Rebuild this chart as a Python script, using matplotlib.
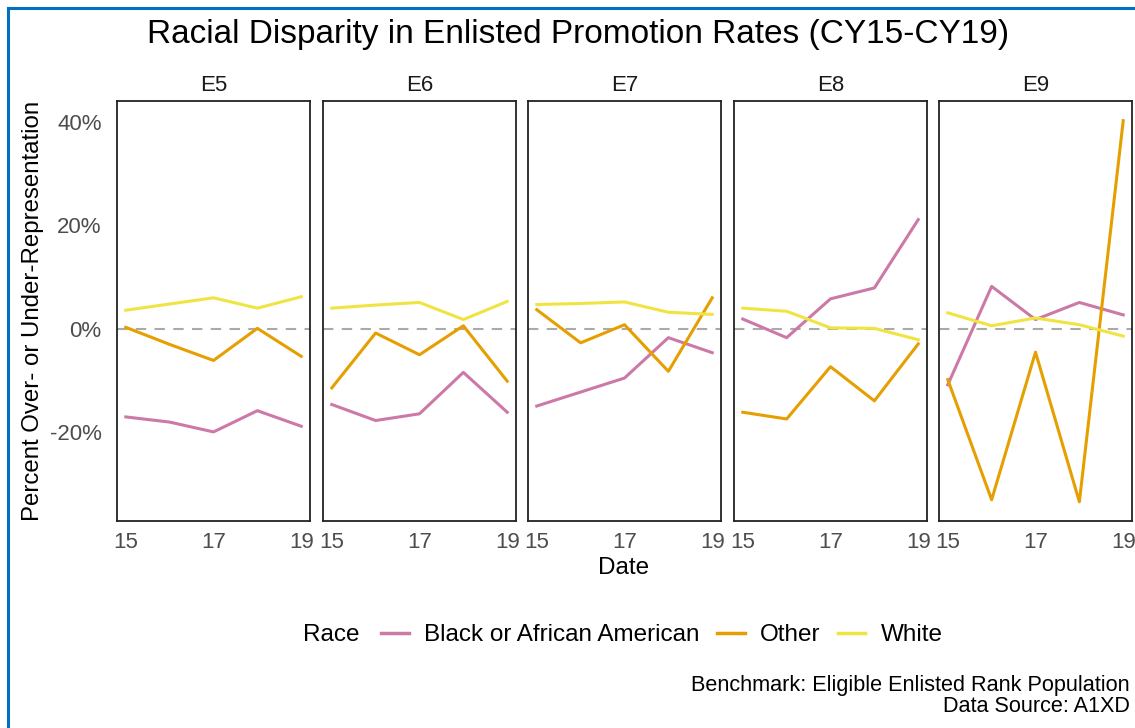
import matplotlib
matplotlib.use("Agg")
import matplotlib.pyplot as plt
from matplotlib.lines import Line2D
from matplotlib.ticker import FuncFormatter

plt.rcParams['font.family'] = ['Liberation Sans', 'DejaVu Sans']

years = [15, 16, 17, 18, 19]
ranks = ["E5", "E6", "E7", "E8", "E9"]
races = ["Black or African American", "Other", "White"]
colors = {"Black or African American": "#CC79A7", "Other": "#E69F00", "White": "#F0E442"}

# percent over/under representation, per rank
black = {
    "E5": [-17.0, -18.0, -19.9, -15.8, -18.8],
    "E6": [-14.6, -17.7, -16.4, -8.4, -16.1],
    "E7": [-14.9, -12.2, -9.5, -1.7, -4.6],
    "E8": [1.9, -1.7, 5.8, 7.9, 21.1],
    "E9": [-10.8, 8.2, 1.8, 5.1, 2.7],
}
other = {
    "E5": [0.3, -3.0, -6.1, 0.1, -5.3],
    "E6": [-11.4, -0.8, -5.0, 0.6, -10.1],
    "E7": [3.7, -2.7, 0.8, -8.2, 6.0],
    "E8": [-16.1, -17.4, -7.3, -13.9, -2.9],
    "E9": [-9.8, -33.0, -4.5, -33.4, 40.2],
}
white = {
    "E5": [3.6, 4.8, 6.0, 4.0, 6.2],
    "E6": [4.0, 4.6, 5.1, 1.8, 5.3],
    "E7": [4.7, 4.9, 5.2, 3.2, 2.8],
    "E8": [4.0, 3.4, 0.2, 0.1, -2.1],
    "E9": [3.1, 0.6, 2.1, 0.8, -1.4],
}
series = {"Black or African American": black, "Other": other, "White": white}

W, H = 1135, 728
fig = plt.figure(figsize=(W / 100, H / 100), dpi=100)

# blue frame around the picture
fig.add_artist(Line2D([8 / W, 1], [1 - 8 / H, 1 - 8 / H], color="#0070C0", lw=2.2, transform=fig.transFigure))
fig.add_artist(Line2D([8 / W, 8 / W], [0, 1 - 8 / H], color="#0070C0", lw=2.2, transform=fig.transFigure))

lefts = [117, 323, 528, 734, 939]
pw = 193
top, bottom = 101, 521

for i, rank in enumerate(ranks):
    ax = fig.add_axes([lefts[i] / W, 1 - bottom / H, pw / W, (bottom - top) / H])
    ax.axhline(0, color="#AAAAAA", lw=1.5, ls=(0, (5, 4)), zorder=1)
    for race in races:
        ax.plot(years, series[race][rank], color=colors[race], lw=2.2, zorder=2)
    ax.set_xlim(14.8, 19.2)
    ax.set_ylim(-37.1, 44.0)
    ax.set_xticks([15, 17, 19])
    ax.set_yticks([-20, 0, 20, 40])
    ax.yaxis.set_major_formatter(FuncFormatter(lambda v, p: f"{v:.0f}%"))
    ax.tick_params(length=0, labelsize=16, colors="#4D4D4D")
    ax.tick_params(axis="y", pad=11)
    ax.tick_params(axis="x", pad=8)
    if i > 0:
        ax.tick_params(labelleft=False)
    for s in ax.spines.values():
        s.set_color("#222222")
        s.set_linewidth(1.3)
    ax.set_title(rank, fontsize=16, color="#1A1A1A", pad=7)

fig.text(578 / W, 1 - 34 / H, "Racial Disparity in Enlisted Promotion Rates (CY15-CY19)",
         ha="center", va="center", fontsize=24)
fig.text(33 / W, 1 - 311 / H, "Percent Over- or Under-Representation", rotation=90,
         ha="center", va="center", fontsize=17.3)
fig.text(624 / W, 1 - 568 / H, "Date", ha="center", va="center", fontsize=17.5)

# legend
fig.text(331 / W, 1 - 635 / H, "Race", ha="center", va="center", fontsize=17.5)
handles = [Line2D([], [], color=colors[r], lw=2.5) for r in races]
fig.legend(handles, races, loc="center", bbox_to_anchor=(662 / W, 1 - 635 / H), ncol=3,
           frameon=False, fontsize=17.5, handlelength=1.15, handletextpad=0.62, columnspacing=0.7)

fig.text(1130 / W, 1 - 686 / H, "Benchmark: Eligible Enlisted Rank Population",
         ha="right", va="center", fontsize=15.6)
fig.text(1130 / W, 1 - 707 / H, "Data Source: A1XD", ha="right", va="center", fontsize=15.6)

fig.savefig("out.png", dpi=100)
